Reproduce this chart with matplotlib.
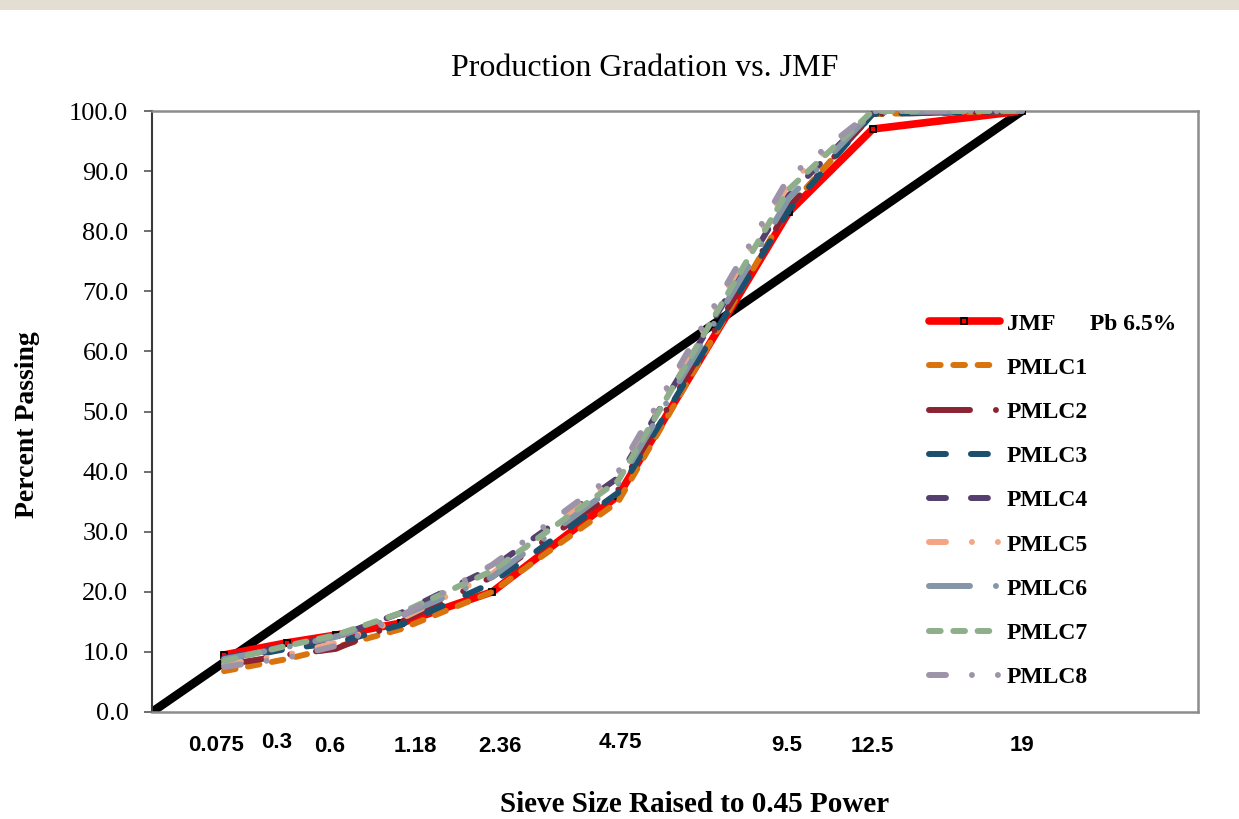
import matplotlib
matplotlib.use("Agg")
import matplotlib.pyplot as plt
import matplotlib.transforms as mtransforms
from matplotlib.patches import Rectangle
import numpy as np

plt.rcParams['lines.scale_dashes'] = False

# ---------------- data ----------------
sieves = [0.075, 0.3, 0.6, 1.18, 2.36, 4.75, 9.5, 12.5, 19]
sieve_labels = ["0.075", "0.3", "0.6", "1.18", "2.36", "4.75", "9.5", "12.5", "19"]
jmf = [9.5, 11.5, 12.8, 14.8, 20.0, 36.0, 83.2, 97.0, 100.0]
pmlc1 = [6.8, 8.8, 10.8, 13.8, 20.0, 35.0, 84.0, 99.5, 100.0]
pmlc2 = [7.8, 9.5, 10.5, 15.0, 22.5, 37.0, 84.0, 99.5, 100.0]
pmlc3 = [8.5, 10.5, 11.5, 14.5, 21.5, 36.5, 83.5, 99.5, 100.0]
pmlc4 = [9.0, 11.0, 12.5, 16.5, 24.0, 39.0, 86.0, 100.0, 100.0]
pmlc5 = [8.0, 9.5, 11.5, 15.5, 23.0, 39.5, 88.0, 100.0, 100.0]
pmlc6 = [8.8, 10.8, 12.5, 16.0, 22.5, 38.0, 85.5, 99.8, 100.0]
pmlc7 = [8.5, 11.0, 12.8, 16.5, 23.5, 38.5, 87.0, 100.0, 100.0]
pmlc8 = [7.5, 9.0, 11.0, 16.0, 24.5, 40.0, 89.0, 100.0, 100.0]
max_density_sizes = [0.0, 19.0]
max_density_pass = [0.0, 100.0]
series_names = ["PMLC1", "PMLC2", "PMLC3", "PMLC4", "PMLC5", "PMLC6", "PMLC7", "PMLC8"]
jmf_label = "JMF      Pb 6.5%"
power = 0.45

# ---------------- styles ----------------
colors = ['#D9730D', '#8B2333', '#1B4F6E', '#553F6E', '#F4A582', '#8496A8', '#8FAE8C', '#9E94AA']
dash_a = (0, (8.4, 9.1))
dash_b = (0, (29.5, 18.7, 0.01, 18.7))
dash_c = (0, (12.2, 18.0))
dash_d = (0, (12.2, 18.7, 0.01, 18.7, 0.01, 18.7))
styles = [dash_a, dash_b, dash_c, dash_c, dash_d, dash_b, dash_a, dash_d]

serif = 'Liberation Serif'
sans = 'Liberation Sans'

fig = plt.figure(figsize=(12.39, 8.19), dpi=100)
fig.patch.set_facecolor('white')
fig.add_artist(Rectangle((0, 1 - 10/819), 1, 10/819, transform=fig.transFigure,
                         facecolor='#E4DDD1', edgecolor='none'))

ax = fig.add_axes([152/1239, 1 - 712/819, 1046/1239, 601/819])

x = np.array(sieves) ** power
xmd = np.array(max_density_sizes) ** power

ax.plot(xmd, max_density_pass, color='black', lw=6.2, solid_capstyle='butt', zorder=2)
ax.plot(x, jmf, color='#FF0000', lw=5.5, marker='s', ms=4.5, mec='black', mfc='none', mew=1.3,
        solid_capstyle='round', solid_joinstyle='round', label=jmf_label, zorder=3)
all_series = [pmlc1, pmlc2, pmlc3, pmlc4, pmlc5, pmlc6, pmlc7, pmlc8]
for i, (vals, name) in enumerate(zip(all_series, series_names)):
    ax.plot(x, vals, color=colors[i], lw=4.3, linestyle=styles[i], dash_capstyle='round',
            dash_joinstyle='round', label=name, zorder=4 + i)

ax.set_xlim(0, 4.523)
ax.set_ylim(0, 100)
ax.set_yticks(np.arange(0, 101, 10))
ax.set_yticklabels([f"{v:.1f}" for v in np.arange(0, 101, 10)], fontsize=19, family=serif)
ax.set_xticks([])
ax.tick_params(axis='y', direction='out', length=6, width=1.2, color='#555555', pad=11)

for s in ax.spines.values():
    s.set_color('#8C8C8C')
    s.set_linewidth(1.8)
ax.spines['left'].set_color('#3A3A3A')
ax.spines['left'].set_linewidth(1.5)

# sieve labels (text boxes placed below the axis)
label_offsets = [(-8, 0), (-10, 3), (-6, -1), (14, -1), (8, -1), (2, 3), (-2, 0), (0, -1), (0, 0)]
for s_val, lab, (dx, dy) in zip(sieves, sieve_labels, label_offsets):
    ax.text(s_val ** power + dx / 231.3, -0.055 + dy / 601, lab,
            transform=mtransforms.blended_transform_factory(ax.transData, ax.transAxes),
            ha='center', va='center', fontsize=16, fontweight='bold', family=sans)

fig.text(645/1239, 1 - 68/819, "Production Gradation vs. JMF", ha='center', va='center',
         fontsize=23, family=serif)
fig.text(695/1239, 1 - 805/819, "Sieve Size Raised to 0.45 Power", ha='center', va='center',
         fontsize=21, family=serif, fontweight='bold')
fig.text(28/1239, 1 - 425/819, "Percent Passing", ha='center', va='center', rotation=90,
         fontsize=20, family=serif, fontweight='bold')

leg = ax.legend(loc='upper left', bbox_to_anchor=((929 - 152) / 1046, (712 - 313) / 601),
                frameon=False, borderpad=0, borderaxespad=0, handlelength=3.0,
                handletextpad=0.3, labelspacing=0.96,
                prop={'family': serif, 'weight': 'bold', 'size': 17})

fig.savefig('out.png', dpi=100)
